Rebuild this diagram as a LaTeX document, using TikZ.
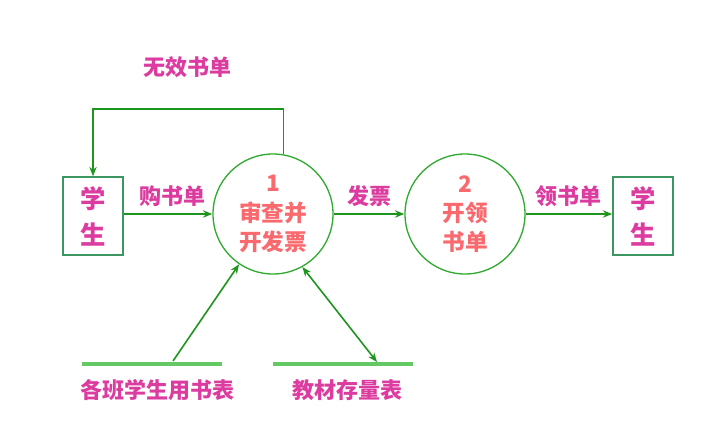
\documentclass[tikz,border=0pt]{standalone}
\usepackage{fontspec}
\usepackage{tikz}
\usetikzlibrary{arrows.meta}
\newfontfamily\cjk{Noto Sans CJK SC}
\definecolor{flowcol}{RGB}{30,150,30}
\definecolor{boxcol}{RGB}{60,150,100}
\definecolor{bubcol}{RGB}{50,170,50}
\definecolor{storecol}{RGB}{100,200,100}
\definecolor{labcol}{RGB}{220,60,160}
\definecolor{proccol}{RGB}{250,105,110}

\tikzset{
  entity/.style={draw=boxcol,line width=1.1pt,minimum width=45pt,minimum height=58.5pt,
    inner sep=0pt,align=center,text=labcol,font=\cjk\bfseries\fontsize{19}{27}\selectfont},
  bubble/.style={draw=bubcol,line width=1pt,circle,minimum size=90pt,inner sep=0pt,
    align=center,text=proccol,font=\cjk\bfseries\fontsize{17}{22}\selectfont},
  flow/.style={flowcol,line width=1.2pt,-{Stealth[length=7pt,width=5.5pt]}},
  flow2/.style={flowcol,line width=1.2pt,{Stealth[length=7pt,width=5.5pt]}-{Stealth[length=7pt,width=5.5pt]}},
  lab/.style={text=labcol,font=\cjk\bfseries\fontsize{16.5}{18}\selectfont,inner sep=1pt},
  store/.style={storecol,line width=3pt}
}

\begin{document}
\begin{tikzpicture}[x=0.75pt,y=-0.75pt]
\fill[white] (0,0) rectangle (714,429);
\useasboundingbox (0,0) rectangle (714,429);
% external entities and processes
\node[entity] (stu1) at (93,216) {学\\生};
\node[entity] (stu2) at (643,216) {学\\生};
\node[bubble] (c1) at (273,214) {1\\审查并\\开发票};
\node[bubble] (c2) at (465,214) {2\\开领\\书单};
% data stores
\draw[store] (82,364) -- (222,364);
\draw[store] (273,364) -- (413,364);
\coordinate (ds1) at (173,361);
\coordinate (ds2) at (377,362);
\node[lab] (t1) at (157,390) {各班学生用书表};
\node[lab] (t2) at (347,390) {教材存量表};
% flows
\coordinate (top) at (93,109);
\draw[flow] (c1.80) |- (top) -- (stu1.north);
\node[lab] (l0) at (187,67) {无效书单};
\draw[flow] (stu1.east |- c1) -- (c1) node[lab,pos=0.55,above=4pt] (l1) {购书单};
\draw[flow] (c1) -- (c2) node[lab,midway,above=4pt] (l2) {发票};
\draw[flow] (c2) -- (c2 -| stu2.west) node[lab,midway,above=4pt] (l3) {领书单};
\draw[flow] (ds1) -- (c1.236);
\draw[flow2] (c1.299) -- (ds2);
\end{tikzpicture}
\end{document}
